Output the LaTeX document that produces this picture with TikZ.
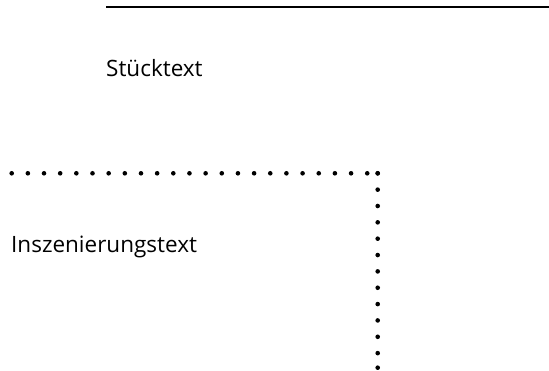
\documentclass[tikz,border=0pt]{standalone}
\usepackage{fontspec}
\setmainfont{Open Sans}
\begin{document}
\begin{tikzpicture}[x=1pt,y=1pt,
  lbl/.style={anchor=base west,inner sep=0pt,font=\fontsize{22.5}{27}\selectfont},
  dotline/.style={line width=4.6pt,line cap=round,dash pattern=on 0pt off 16.16pt},
  vdotline/.style={line width=4.6pt,line cap=round,dash pattern=on 0pt off 16.35pt},
  solidline/.style={line width=2.2pt}]
\useasboundingbox (0,0) rectangle (549,371);
\coordinate (lineL) at (106,364);
\coordinate (lineR) at (549,364);
\draw[solidline] (lineL) -- (lineR);
\node[lbl] (stueck) at (106,294) {Stücktext};
\node[lbl] (insz) at (11,118) {Inszenierungstext};
\coordinate (hstart) at (11.7,197.7);
\coordinate (corner) at (377.7,197.7);
\coordinate (vend) at (377.7,3.3);
\draw[dotline] (hstart) -- (corner);
\draw[vdotline] (corner) -- (vend);
\fill (corner) circle (2.3pt);
\fill (vend) circle (2.3pt);
\end{tikzpicture}
\end{document}
